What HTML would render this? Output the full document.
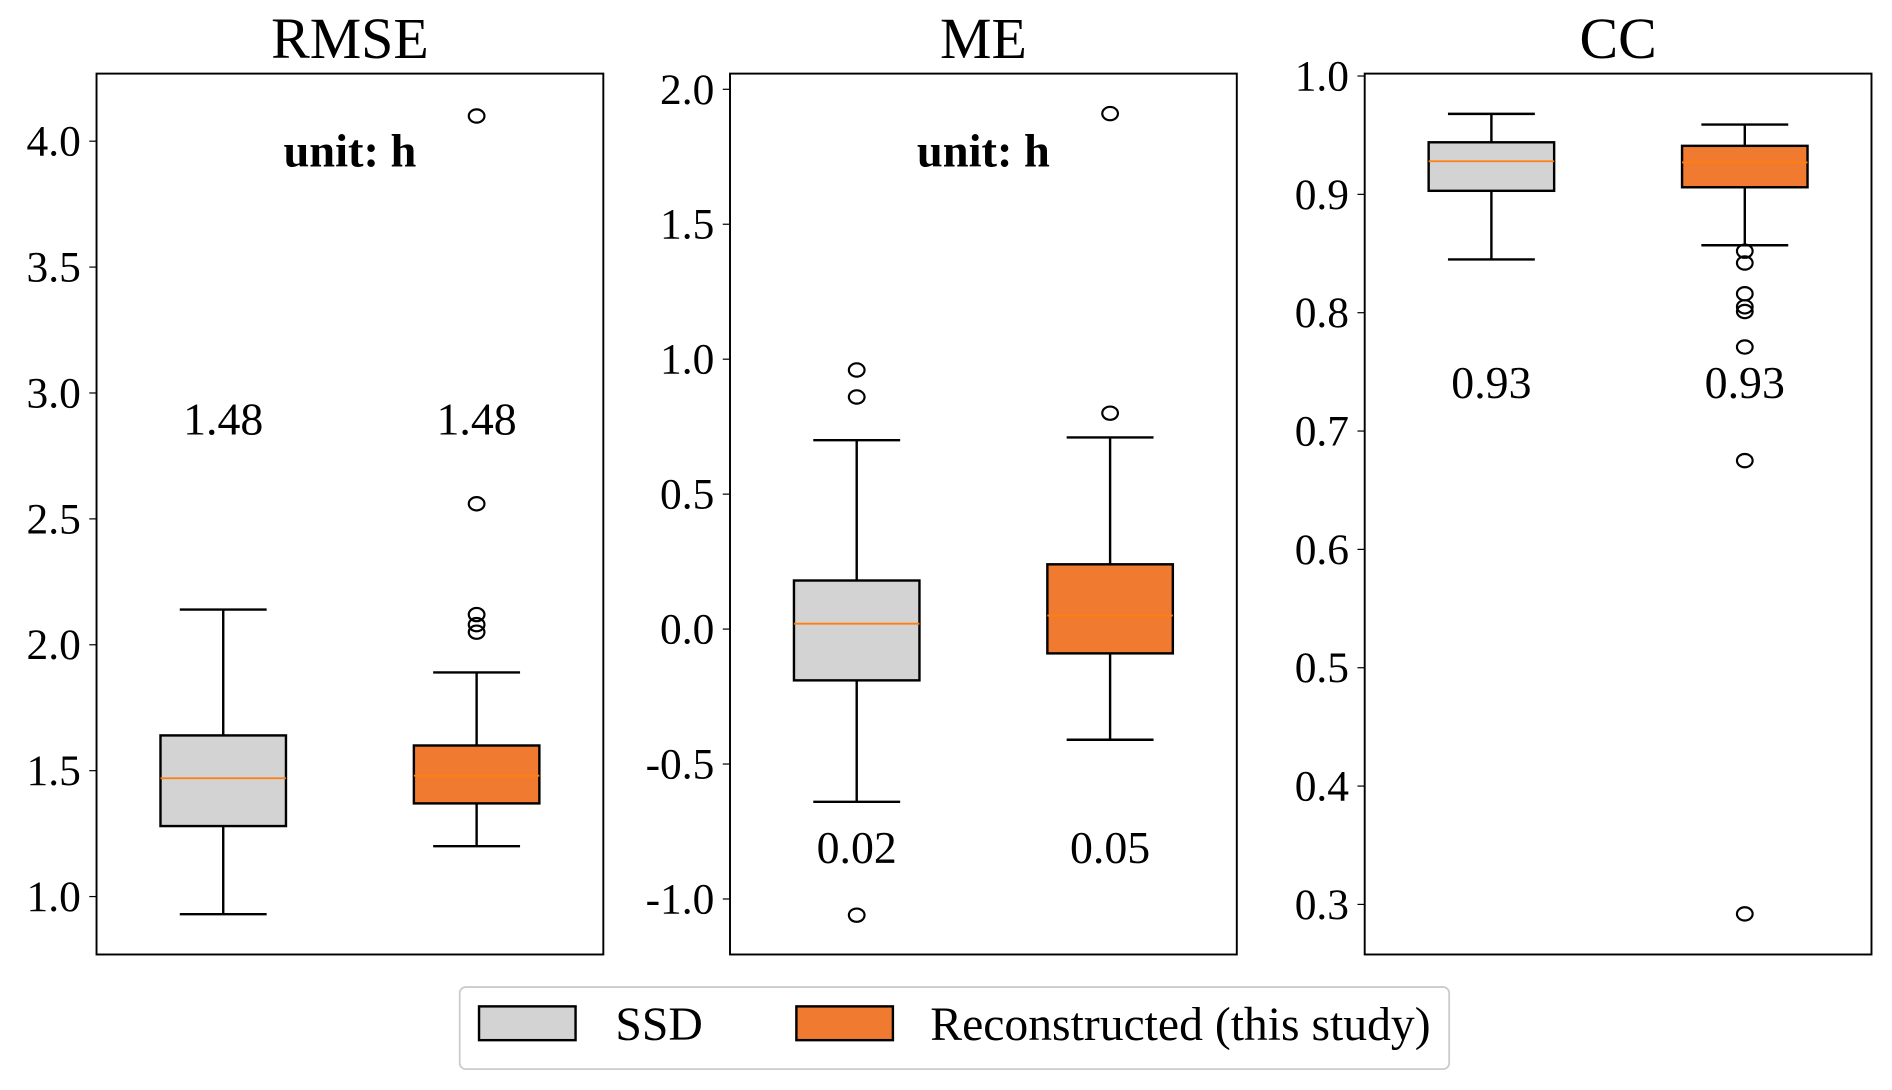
<!DOCTYPE html>
<html><head><meta charset="utf-8"><style>
html,body{margin:0;padding:0;background:#fff}
svg{display:block}
text{font-family:"Liberation Serif",serif;fill:#000}
</style></head><body>
<svg id="chart" width="1892" height="1090" viewBox="0 0 1568 903.3" preserveAspectRatio="none" xmlns="http://www.w3.org/2000/svg"></svg>
<script>
const panelTitles = ["RMSE", "ME", "CC"];
const seriesNames = ["SSD", "Reconstructed (this study)"];
const rmseSSD = [0.93, 1.28, 1.47, 1.64, 2.14];
const rmseRec = [1.20, 1.37, 1.48, 1.60, 1.89];
const rmseOutSSD = [];
const rmseOutRec = [2.05, 2.08, 2.12, 2.56, 4.10];
const meSSD = [-0.64, -0.19, 0.02, 0.18, 0.70];
const meRec = [-0.41, -0.09, 0.05, 0.24, 0.71];
const meOutSSD = [0.86, 0.96, -1.06];
const meOutRec = [0.80, 1.91];
const ccSSD = [0.845, 0.903, 0.928, 0.944, 0.968];
const ccRec = [0.857, 0.906, 0.927, 0.941, 0.959];
const ccOutSSD = [];
const ccOutRec = [0.852, 0.842, 0.816, 0.805, 0.801, 0.771, 0.675, 0.292];
const rmseTicks = ["1.0","1.5","2.0","2.5","3.0","3.5","4.0"];
const meTicks = ["-1.0","-0.5","0.0","0.5","1.0","1.5","2.0"];
const ccTicks = ["0.3","0.4","0.5","0.6","0.7","0.8","0.9","1.0"];
const rmseLabels = ["1.48","1.48"];
const meLabels = ["0.02","0.05"];
const ccLabels = ["0.93","0.93"];

const NS = "http://www.w3.org/2000/svg";
const svg = document.getElementById("chart");
function mk(tag, attrs, parent){const e=document.createElementNS(NS,tag);for(const k in attrs)e.setAttribute(k,attrs[k]);(parent||svg).appendChild(e);return e;}

const panels = [
 {key:"rmse", left:80, boxes:[rmseSSD,rmseRec], outs:[rmseOutSSD,rmseOutRec], ticks:rmseTicks, labels:rmseLabels, v0:1.0,p0:743,v1:4.0,p1:117, labelY:347, unit:true},
 {key:"me", left:605, boxes:[meSSD,meRec], outs:[meOutSSD,meOutRec], ticks:meTicks, labels:meLabels, v0:-1.0,p0:745,v1:2.0,p1:74, labelY:702, unit:true},
 {key:"cc", left:1131, boxes:[ccSSD,ccRec], outs:[ccOutSSD,ccOutRec], ticks:ccTicks, labels:ccLabels, v0:0.3,p0:749.5,v1:1.0,p1:63, labelY:317, unit:false}
];
const fills = ["#d3d3d3", "#f07a30"];
const axTop=61, axBot=791, W=420;

panels.forEach((p, pi) => {
  const g = mk("g", {});
  
  
  const y = v => p.p0 + (v - p.v0) * (p.p1 - p.p0) / (p.v1 - p.v0);
  const xc = i => p.left + 105 + i * 210;
  const t = mk("text", {x:p.left+W/2, y:48, "text-anchor":"middle", "font-size":48}, g);
  t.textContent = panelTitles[pi];
  
  
  p.ticks.forEach(tl => {
    const yy = y(parseFloat(tl));
    const tk = mk("line", {x1:p.left-6, x2:p.left, y1:yy, y2:yy, stroke:"#000", "stroke-width":1}, g);
    
    
    const tx = mk("text", {x:p.left-13, y:yy+12, "text-anchor":"end", "font-size":36}, g);
    tx.textContent = tl;
    
    
  });
  p.boxes.forEach((b, i) => {
    const cx = xc(i), hw = 52, cw = 36;
    const wl = mk("line", {x1:cx, x2:cx, y1:y(b[0]), y2:y(b[4]), stroke:"#000", "stroke-width":2}, g);
    
    
    [b[0], b[4]].forEach(v => {
      const c = mk("line", {x1:cx-cw, x2:cx+cw, y1:y(v), y2:y(v), stroke:"#000", "stroke-width":2}, g);
      
      
    });
    const r = mk("rect", {x:cx-hw, y:y(b[3]), width:hw*2, height:y(b[1])-y(b[3]), fill:fills[i], stroke:"#000", "stroke-width":2}, g);
    
    
    const m = mk("line", {x1:cx-hw, x2:cx+hw, y1:y(b[2]), y2:y(b[2]), stroke:"#ff7f0e", "stroke-width":1.5}, g);
    
    
    p.outs[i].forEach(v => {
      const o = mk("ellipse", {cx:cx, cy:y(v), rx:6.5, ry:5.5, fill:"none", stroke:"#000", "stroke-width":1.8}, g);
      
      
    });
    const lt = mk("text", {x:cx, y:p.labelY+13, "text-anchor":"middle", "font-size":38}, g);
    lt.textContent = p.labels[i];
    
    
  });
  if (p.unit) {
    const u = mk("text", {x:p.left+W/2, y:138, "text-anchor":"middle", "font-size":38.5, "font-weight":"bold"}, g);
    u.textContent = "unit: h";
    
    
  }
  const fr = mk("rect", {x:p.left, y:axTop, width:W, height:axBot-axTop, fill:"none", stroke:"#000", "stroke-width":1.6}, g);
  
  
});

const lg = mk("g", {});


mk("rect", {x:381, y:818, width:820, height:68, rx:5, fill:"#fff", stroke:"#ccc", "stroke-width":1.5}, lg);
const lx = [397, 660], tx = [510, 771];
seriesNames.forEach((n, i) => {
  const pr = mk("rect", {x:lx[i], y:834, width:80, height:28, fill:fills[i], stroke:"#000", "stroke-width":2}, lg);
  
  
  const t = mk("text", {x:tx[i], y:862, "font-size":39.5}, lg);
  t.textContent = n;
  
  
});
</script>
</body></html>
